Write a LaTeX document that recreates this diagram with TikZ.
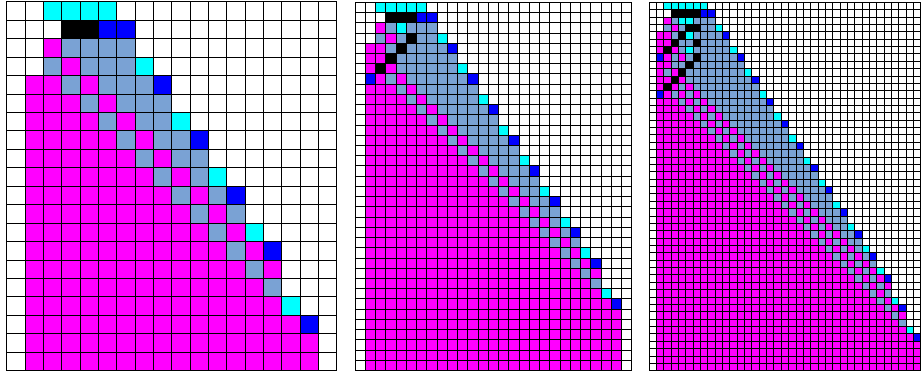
\documentclass[tikz,border=0pt]{standalone}
\usepackage{tikz}
\definecolor{cmag}{HTML}{FF00FF}
\definecolor{clb}{HTML}{7AA2D4}
\definecolor{ccy}{HTML}{00FFFF}
\definecolor{cbl}{HTML}{0000FF}
\definecolor{cbk}{HTML}{000000}
\tikzset{
  gridline/.style={line width=0.7pt,color=black,line cap=rect},
  cell/.style={fill=#1}
}
\def\edgeA{4/8/6,7/10/9,10/12/12,13/14/16,17/16/19}
\def\edgeB{4/9/6,7/11/9,10/13/12,13/15/15,16/17/18,19/19/21,22/21/24,25/23/28,29/25/35}
\def\edgeC{4/10/6,7/12/9,10/14/12,13/16/15,16/18/18,19/20/21,22/22/24,25/24/27,28/26/30,31/28/33,34/30/36,37/32/40,41/34/44,45/36/49}
\begin{document}
\begin{tikzpicture}[x=0.75pt,y=-0.75pt]
  \path[use as bounding box,fill=white] (0,0) rectangle (922,371);

  % left: 18 x 20
  \begin{scope}[shift={(6.7,1.7)},x=13.75pt,y=-13.84pt]
    \begin{scope}
      \clip \foreach \rb/\cb/\rn in \edgeA
        {(1,\rb) rectangle (\cb,\rb+1) (1,\rb+1) rectangle (\cb+1,\rn+1)};
      \fill[clb] (0,0) rectangle (18,20);
      \foreach \r in {4,...,19} {
        \fill[cmag] (1,\r) rectangle (\r-1,\r+1);
        \fill[cmag] (\r,\r) rectangle (\r+1,\r+1);
      }
    \end{scope}
    \foreach \r/\a/\b/\cl in {0/2/5/ccy,1/3/4/cbk,1/5/6/cbl,2/2/2/cmag,2/3/6/clb,
        3/2/2/clb,3/3/3/cmag,3/4/6/clb,3/7/7/ccy}
      \fill[cell=\cl] (\a,\r) rectangle (\b+1,\r+1);
    \foreach \rb/\cb/\rn in \edgeA \fill[cbl] (\cb,\rb) rectangle +(1,1);
    \foreach \r/\c in {6/9,9/11,12/13,16/15} \fill[ccy] (\c,\r) rectangle +(1,1);
    \foreach \i in {0,...,18} \draw[gridline] (\i,0) -- (\i,20);
    \foreach \j in {0,...,20} \draw[gridline] (0,\j) -- (18,\j);
  \end{scope}

  % middle: 27 x 36
  \begin{scope}[shift={(355,2.3)},x=7.69pt,y=-7.67pt]
    \begin{scope}
      \clip \foreach \rb/\cb/\rn in \edgeB
        {(1,\rb) rectangle (\cb,\rb+1) (1,\rb+1) rectangle (\cb+1,\rn+1)};
      \fill[clb] (0,0) rectangle (27,36);
      \foreach \r in {4,...,35} {
        \fill[cmag] (1,\r) rectangle (\r-4,\r+1);
        \fill[cmag] (\r-3,\r) rectangle (\r-2,\r+1);
      }
    \end{scope}
    \foreach \r/\a/\b/\cl in {0/2/6/ccy,1/3/5/cbk,1/6/7/cbl,2/2/2/cmag,2/3/3/clb,
        2/4/4/ccy,2/5/7/clb,3/2/2/clb,3/3/3/cmag,3/4/4/clb,3/5/5/cbk,3/6/7/clb,
        3/8/8/ccy,4/2/2/cmag,4/4/4/cbk,5/1/1/cmag,5/3/3/cbk,6/2/2/cbk,7/1/1/cbl}
      \fill[cell=\cl] (\a,\r) rectangle (\b+1,\r+1);
    \foreach \rb/\cb/\rn in \edgeB \fill[cbl] (\cb,\rb) rectangle +(1,1);
    \foreach \r/\c in {6/10,9/12,12/14,15/16,18/18,21/20,24/22,28/24}
      \fill[ccy] (\c,\r) rectangle +(1,1);
    \foreach \i in {0,...,27} \draw[gridline] (\i,0) -- (\i,36);
    \foreach \j in {0,...,36} \draw[gridline] (0,\j) -- (27,\j);
  \end{scope}

  % right: 37 x 50
  \begin{scope}[shift={(649,2.3)},x=5.5125pt,y=-5.526pt]
    \begin{scope}
      \clip \foreach \rb/\cb/\rn in \edgeC
        {(1,\rb) rectangle (\cb,\rb+1) (1,\rb+1) rectangle (\cb+1,\rn+1)};
      \fill[clb] (0,0) rectangle (37,50);
      \foreach \r in {4,...,49} {
        \fill[cmag] (1,\r) rectangle (\r-9,\r+1);
        \fill[cmag] (\r-8,\r) rectangle (\r-7,\r+1);
        \fill[cmag] (\r-6,\r) rectangle (\r-5,\r+1);
      }
    \end{scope}
    \foreach \r/\a/\b/\cl in {0/2/7/ccy,1/3/6/cbk,1/7/8/cbl,2/2/2/cmag,2/3/3/clb,
        2/4/5/ccy,2/6/8/clb,3/2/2/clb,3/3/3/cmag,3/4/4/clb,3/5/6/cbk,3/7/8/clb,
        3/9/9/ccy,4/1/2/cmag,4/4/4/cbk,4/5/5/ccy,5/1/2/cmag,5/3/3/cbk,5/6/6/cbk,
        6/1/1/cmag,6/2/2/cbk,6/3/3/cmag,6/5/5/ccy,7/1/1/cbl,7/2/2/cmag,7/4/4/cmag,
        7/6/6/cbk,8/1/1/cmag,8/5/5/cbk,9/4/4/cbk,10/1/1/cmag,10/3/3/cbk,11/2/2/cbk,
        12/1/1/cbl}
      \fill[cell=\cl] (\a,\r) rectangle (\b+1,\r+1);
    \foreach \rb/\cb/\rn in \edgeC \fill[cbl] (\cb,\rb) rectangle +(1,1);
    \foreach \r/\c in {6/11,9/13,12/15,15/17,18/19,21/21,24/23,27/25,30/27,33/29,
        36/31,40/33,44/35}
      \fill[ccy] (\c,\r) rectangle +(1,1);
    \foreach \i in {0,...,37} \draw[gridline] (\i,0) -- (\i,50);
    \foreach \j in {0,...,50} \draw[gridline] (0,\j) -- (37,\j);
  \end{scope}
\end{tikzpicture}
\end{document}
